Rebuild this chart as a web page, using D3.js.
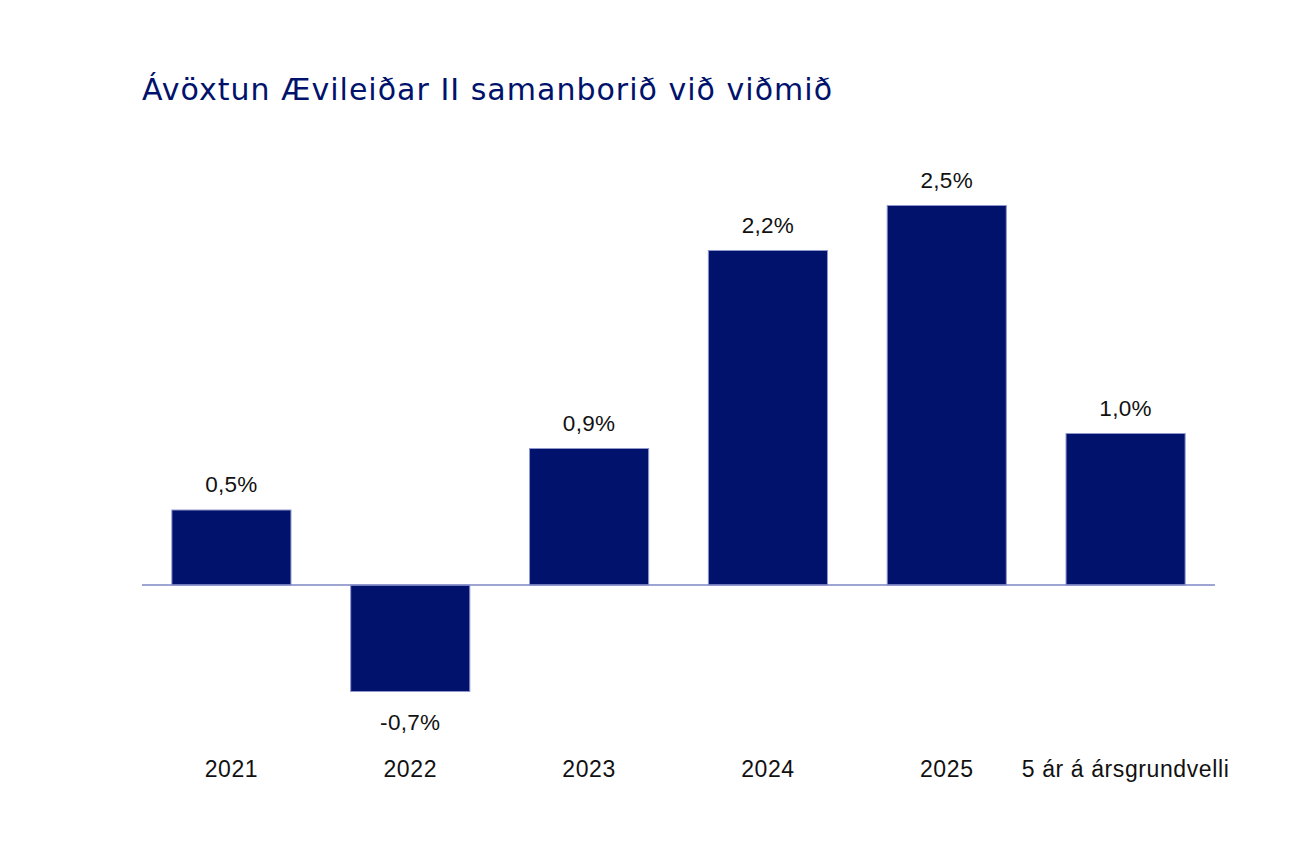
<!DOCTYPE html>
<html>
<head>
<meta charset="utf-8">
<script src="https://cdn.jsdelivr.net/npm/d3@7"></script>
<style>
  body { margin: 0; background: #fff; }
  svg text { font-family: "Liberation Sans", Arial, sans-serif; }
</style>
</head>
<body>
<div id="chart"></div>
<script>
// chart data (labels shown rounded to 1 decimal)
const categories = ["2021", "2022", "2023", "2024", "2025", "5 ár á ársgrundvelli"];
const values = [0.5, -0.71, 0.91, 2.23, 2.53, 1.01];
const title = "Ávöxtun Ævileiðar II samanborið við viðmið";

const width = 1309, height = 855;
const navy = "#00126b";

const svg = d3.select("#chart").append("svg")
    .attr("width", width)
    .attr("height", height);

svg.append("text")
    .attr("x", 142)
    .attr("y", 100)
    .attr("fill", navy)
    .attr("font-size", 30)
    .style("font-family", "'DejaVu Sans', sans-serif")
    .attr("textLength", 690)
    .attr("lengthAdjust", "spacing")
    .text(title);

const x = d3.scaleBand()
    .domain(categories)
    .range([142, 1215])
    .paddingInner(0.334)
    .paddingOuter(0.167);

// 0% sits at y=585, 1% = 150px
const y = d3.scaleLinear()
    .domain([-0.7, 2.5])
    .range([690, 210]);

svg.append("g")
    .selectAll("rect")
    .data(values)
    .join("rect")
    .attr("x", (d, i) => x(categories[i]))
    .attr("width", x.bandwidth())
    .attr("y", d => Math.min(y(d), y(0)))
    .attr("height", d => Math.abs(y(d) - y(0)))
    .attr("fill", navy)
    .attr("stroke", "#8f96cc")
    .attr("stroke-width", 1);

svg.append("line")
    .attr("x1", 142)
    .attr("x2", 1215)
    .attr("y1", y(0))
    .attr("y2", y(0))
    .attr("stroke", "#7f87c4")
    .attr("stroke-width", 1.3);

const fmt = d => d3.format(".1f")(d).replace(".", ",").replace("−", "-") + "%";

// value labels
svg.append("g")
    .selectAll("text")
    .data(values)
    .join("text")
    .attr("x", (d, i) => x(categories[i]) + x.bandwidth() / 2)
    .attr("y", d => d >= 0 ? y(d) - 18 : y(d) + 38)
    .attr("text-anchor", "middle")
    .attr("font-size", 22.5)
    .attr("letter-spacing", 0.3)
    .attr("fill", "#111")
    .text(fmt);

// category labels
svg.append("g")
    .selectAll("text")
    .data(categories)
    .join("text")
    .attr("x", d => x(d) + x.bandwidth() / 2)
    .attr("y", 777)
    .attr("text-anchor", "middle")
    .attr("font-size", 23)
    .attr("letter-spacing", 0.6)
    .attr("fill", "#111")
    .text(d => d);
</script>
</body>
</html>
